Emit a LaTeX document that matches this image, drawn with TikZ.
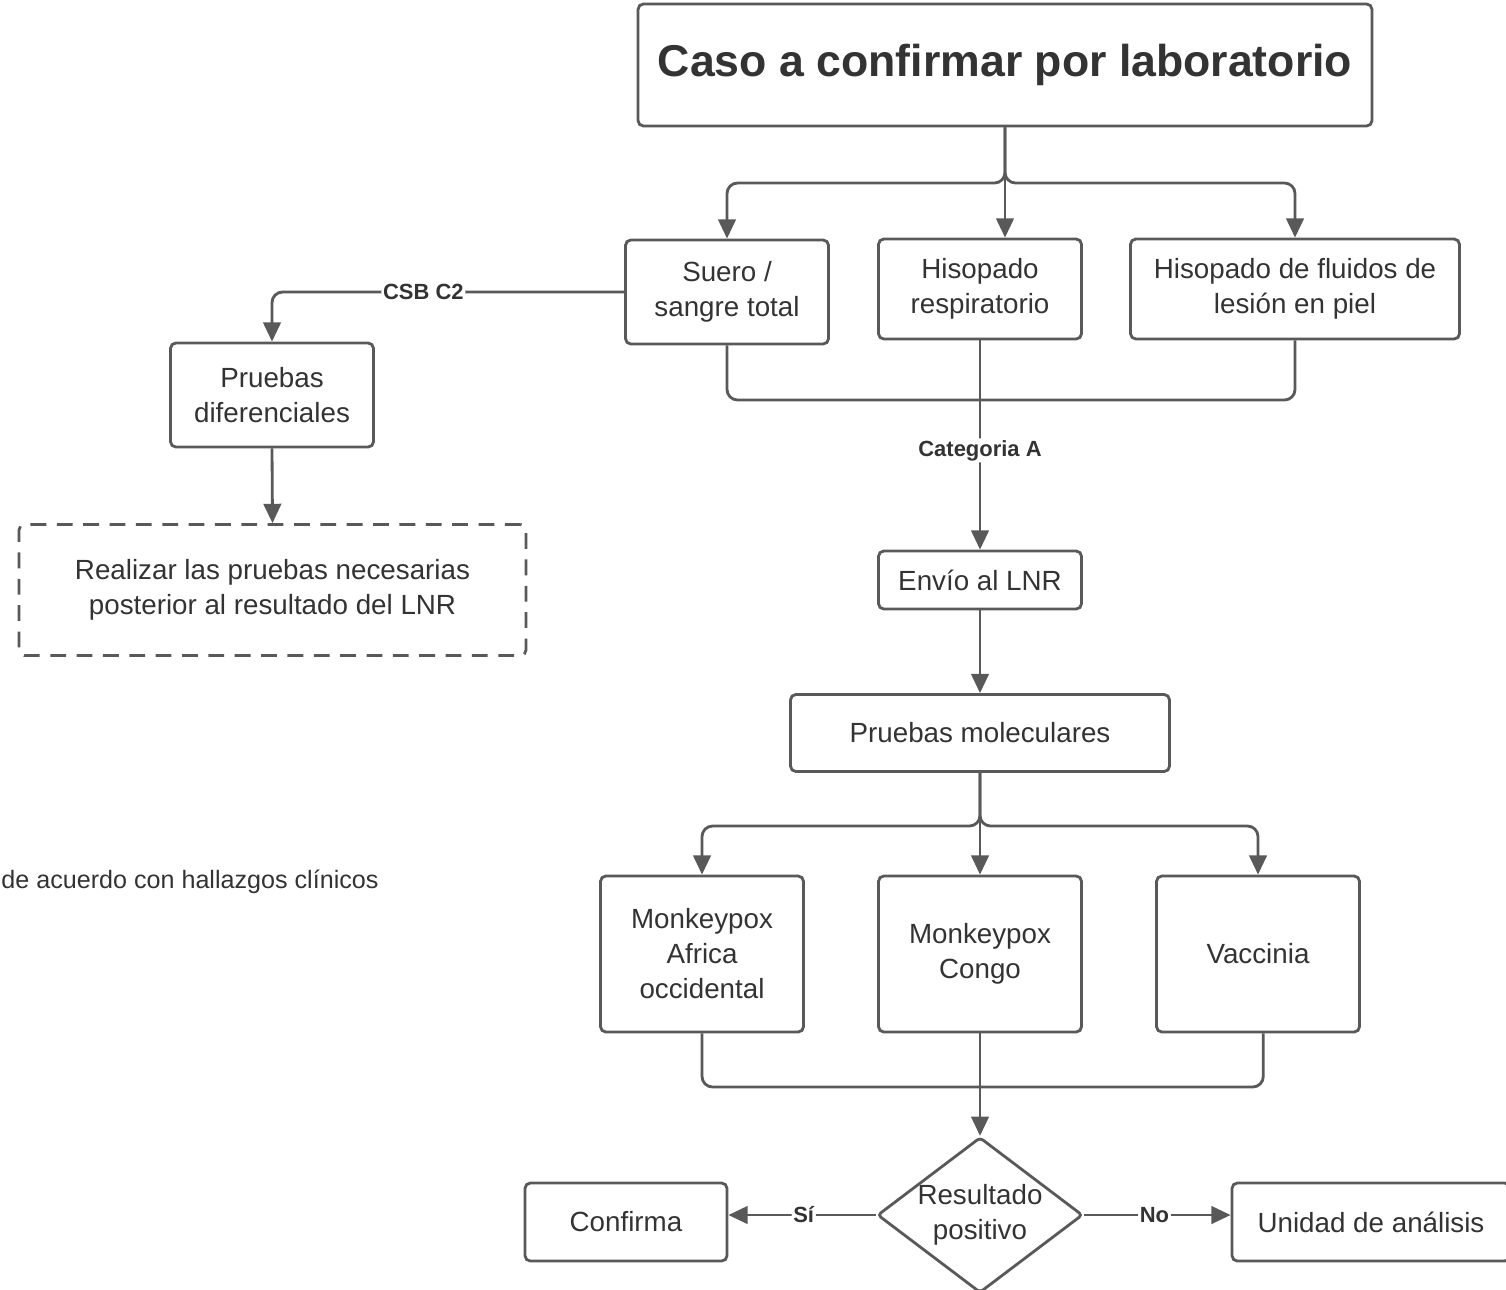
\documentclass[tikz,border=0pt]{standalone}
\usepackage{fontspec}
\setmainfont{Liberation Sans}
\usetikzlibrary{arrows.meta,shapes.geometric,positioning}
\definecolor{linegray}{HTML}{595959}
\definecolor{textgray}{HTML}{333333}

\begin{document}
\begin{tikzpicture}[x=0.02cm,y=-0.02cm,line width=1.6pt,
  box/.style={draw=linegray,rounded corners=3pt,align=center,inner sep=0pt,
    text=textgray,font=\fontsize{15.8}{19.9}\selectfont},
  lbl/.style={fill=white,inner sep=1pt,text=textgray,
    font=\fontsize{12.5}{14}\selectfont\bfseries},
  link/.style={draw=linegray,rounded corners=6pt},
  arr/.style={link,-{Triangle[length=11pt,width=10pt]}}]
\useasboundingbox (0,0) rectangle (1506,1289);

% top case
\node[box,minimum width=14.68cm,minimum height=2.44cm,
  font=\fontsize{25.4}{30}\selectfont\bfseries] (caso) at (1005,65)
  {Caso a confirmar por laboratorio};

% samples
\node[box,minimum width=4.06cm,minimum height=2.08cm] (suero) at (727,292) {Suero /\\sangre total};
\node[box,minimum width=4.06cm,minimum height=2cm] (hisres) at (980,289) {Hisopado\\respiratorio};
\node[box,minimum width=6.58cm,minimum height=2cm] (hispiel) at (1295,289) {Hisopado de fluidos de\\lesión en piel};

% left branch
\node[box,minimum width=4.06cm,minimum height=2.08cm] (pdif) at (272,395) {Pruebas\\diferenciales};
\node[box,dashed,dash pattern=on 9pt off 6pt,minimum width=10.14cm,minimum height=2.62cm] (realizar) at (272.5,590)
  {Realizar las pruebas necesarias\\posterior al resultado del LNR};
\node[anchor=west,inner sep=0pt,text=textgray,font=\fontsize{14.3}{17}\selectfont] (nota) at (0,882)
  {de acuerdo con hallazgos clínicos};

% main line
\node[box,minimum width=4.06cm,minimum height=1.16cm] (envio) at (980,580) {Envío al LNR};
\node[box,minimum width=7.58cm,minimum height=1.54cm] (pmol) at (980,733) {Pruebas moleculares};

% results
\node[box,minimum width=4.06cm,minimum height=3.12cm] (mafr) at (702,954) {Monkeypox\\Africa\\occidental};
\node[box,minimum width=4.06cm,minimum height=3.12cm] (mcon) at (980,954) {Monkeypox\\Congo};
\node[box,minimum width=4.06cm,minimum height=3.12cm] (vacc) at (1258,954) {Vaccinia};

% decision
\node[box,diamond,shape aspect=1.32,rounded corners=2pt,minimum width=4cm,minimum height=3.04cm] (dec) at (980,1215) {Resultado\\positivo};
\node[box,minimum width=4.04cm,minimum height=1.56cm] (conf) at (626,1222) {Confirma};
\node[box,minimum width=5.56cm,minimum height=1.56cm] (unidad) at (1371,1222) {Unidad de análisis};

% connectors top
\coordinate (split1) at (1005,183);
\draw[arr] (caso.south) -- (split1) -| (suero.north);
\draw[arr] (caso.south) -- (split1) -| (hispiel.north);
\draw[arr] (caso.south) -- (caso.south |- hisres.north);
\draw[arr] (suero.west) -| (pdif.north) node[lbl,pos=0.285] {CSB C2};
\draw[arr] (pdif.south) -- (realizar.north);

% merge to LNR
\coordinate (merge1) at (980,400);
\draw[link] (suero.south) |- (merge1);
\draw[link] (hispiel.south) |- (merge1);
\draw[arr] (hisres.south) -- (envio.north) node[lbl,pos=0.526] {Categoria A};
\draw[arr] (envio.south) -- (pmol.north);

% split to tests
\coordinate (split2) at (980,826);
\draw[arr] (pmol.south) -- (split2) -| (mafr.north);
\draw[arr] (pmol.south) -- (split2) -| (vacc.north);
\draw[arr] (pmol.south) -- (mcon.north);

% merge to decision
\coordinate (merge2) at (980,1087);
\draw[link] (mafr.south) |- (merge2);
\draw[link] ([xshift=3pt]vacc.south) |- (merge2);
\draw[arr] (mcon.south) -- (dec.north);
\draw[arr] (dec.west) -- (dec.west -| conf.east) node[lbl,pos=0.49] {Sí};
\draw[arr] (dec.east) -- (dec.east -| unidad.west) node[lbl,pos=0.48] {No};
\end{tikzpicture}
\end{document}
